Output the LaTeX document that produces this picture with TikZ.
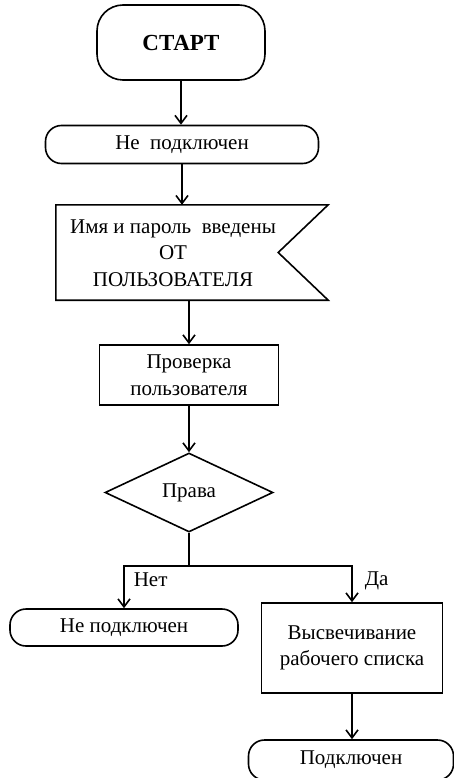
\documentclass[tikz,border=0pt]{standalone}
\usepackage{fontspec}
\setmainfont{Liberation Serif}
\usepackage{tikz}
\usetikzlibrary{shapes.geometric, arrows.meta, positioning, calc}
\newcommand{\chartfont}{\fontsize{21}{26.5}\selectfont}
\tikzset{
  term/.style={rectangle, draw=black, rounded corners=16pt,
    minimum height=38pt, inner sep=0pt, font=\chartfont, line width=1.6pt},
  block/.style={rectangle, draw=black, align=center,
    inner sep=0pt, font=\chartfont, line width=1.6pt},
  inbox/.style={rectangle, draw=none, minimum width=272pt,
    minimum height=95pt, inner sep=0pt},
  decision/.style={diamond, draw=black, aspect=2.1, minimum width=168pt,
    minimum height=79pt, inner sep=0pt, font=\chartfont, line width=1.6pt},
  arrow/.style={-{Straight Barb[length=8pt,width=12pt]}, line width=1.6pt},
  line/.style={line width=1.6pt},
  branch/.style={font=\chartfont, inner sep=0pt}
}
\begin{document}
\begin{tikzpicture}[x=1pt, y=-1pt]
  \useasboundingbox (0,0) rectangle (454,778);
  \node[term, rounded corners=26pt, minimum width=168pt, minimum height=75pt,
    font=\fontsize{23}{26}\selectfont\bfseries] (start) at (181,42.5) {СТАРТ};
  \node[term, minimum width=273pt] (nc1) at (182,144.5) {Не~~подключен};
  \node[inbox] (inp) at (192,252.5) {};
  \node[align=center, font=\chartfont, inner sep=0pt] (inptext) at (173,253)
    {Имя и пароль~~введены\\ОТ\\ПОЛЬЗОВАТЕЛЯ};
  \draw[line] (inp.north west) -- (inp.north east) -- ([xshift=-50pt]inp.east)
    -- (inp.south east) -- (inp.south west) -- cycle;
  \node[block, minimum width=179pt, minimum height=60pt] (chk) at (189,375)
    {Проверка\\пользователя};
  \node[decision] (rights) at (189,492.5) {Права};
  \node[term, minimum width=228pt, minimum height=37pt] (nc2) at (124,627.5)
    {Не подключен};
  \node[block, minimum width=181pt, minimum height=90pt] (vis) at (352,648)
    {Высвечивание\\рабочего списка};
  \node[term, minimum width=205pt, minimum height=40pt] (ok) at (351,760)
    {Подключен};
  \draw[arrow] (start) -- (start |- nc1.north);
  \draw[arrow] (nc1) -- (nc1 |- inp.north);
  \draw[arrow] (inp.south -| chk.north) -- (chk.north);
  \draw[arrow] (chk) -- (rights);
  \draw[line] (rights.south) -- ++(0,33) coordinate (split);
  \draw[arrow] (split) -| node[branch, pos=0.67, right=9pt] {Нет} (nc2.north);
  \draw[arrow] (split) -| node[branch, pos=0.70, right=12pt] {Да} (vis.north);
  \draw[arrow] (vis) -- (vis |- ok.north);
\end{tikzpicture}
\end{document}
